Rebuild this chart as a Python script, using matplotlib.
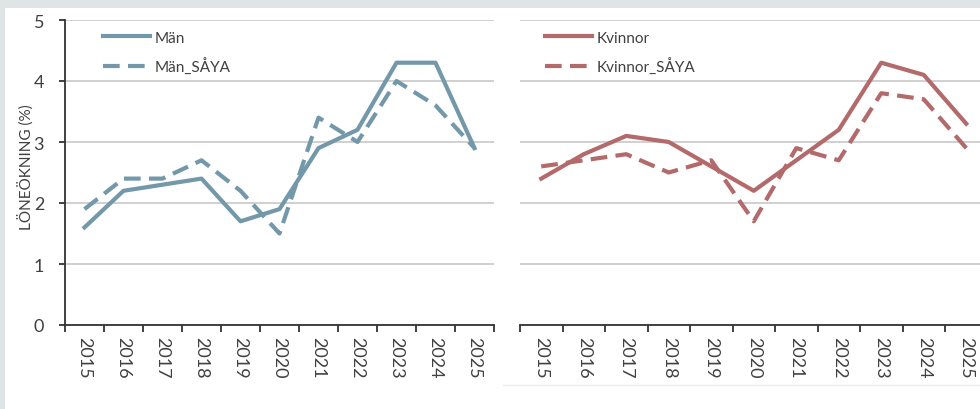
import numpy as np
import matplotlib
matplotlib.use("Agg")
import matplotlib.pyplot as plt
from matplotlib.patches import Rectangle
from matplotlib.lines import Line2D

plt.rcParams['font.family'] = ['Lato', 'DejaVu Sans']

years = ['2015', '2016', '2017', '2018', '2019', '2020', '2021', '2022', '2023', '2024', '2025']
man = [1.6, 2.2, 2.3, 2.4, 1.7, 1.9, 2.9, 3.2, 4.3, 4.3, 2.9]
man_saya = [1.9, 2.4, 2.4, 2.7, 2.2, 1.5, 3.4, 3.0, 4.0, 3.6, 2.9]
kvinnor = [2.4, 2.8, 3.1, 3.0, 2.6, 2.2, 2.7, 3.2, 4.3, 4.1, 3.3]
kvinnor_saya = [2.6, 2.7, 2.8, 2.5, 2.7, 1.7, 2.9, 2.7, 3.8, 3.7, 2.9]

blue = '#7398aa'
red = '#b36a6b'
txt = '#404040'
W, H = 980, 410

fig = plt.figure(figsize=(9.8, 4.1), dpi=100)
fig.patch.set_facecolor('#dfe5e5')
fig.patches.append(Rectangle((5 / W, 0), 1, (H - 9) / H, transform=fig.transFigure,
                             facecolor='white', edgecolor='none', zorder=-5))
fig.lines.append(Line2D([503 / W, 1], [(H - 386) / H] * 2, transform=fig.transFigure,
                        color='#ececec', lw=1, zorder=-4))

x = np.arange(len(years))


def setup(ax, left_axis):
    ax.patch.set_alpha(0)
    ax.set_xlim(-0.5, len(years) - 0.5)
    ax.set_ylim(0, 5)
    ax.set_yticks(range(6))
    ax.grid(axis='y', color='#c8c8c8', lw=1.2)
    ax.set_axisbelow(True)
    for s in ['top', 'right']:
        ax.spines[s].set_visible(False)
    ax.spines['bottom'].set_color('#333333')
    ax.spines['bottom'].set_linewidth(1.3)
    ax.set_xticks(x)
    ax.set_xticklabels(years, rotation=-90, fontsize=13, color=txt)
    ax.set_xticks(np.arange(-0.5, len(years)), minor=True)
    ax.tick_params(axis='x', which='major', length=0, pad=8)
    ax.tick_params(axis='x', which='minor', length=5, width=1.3, color='#333333', direction='out')
    if left_axis:
        ax.spines['left'].set_color('#333333')
        ax.spines['left'].set_linewidth(1.3)
        ax.tick_params(axis='y', length=4, width=1.3, color='#333333', labelsize=13,
                       labelcolor=txt, pad=11)
    else:
        ax.spines['left'].set_visible(False)
        ax.tick_params(axis='y', length=0, labelleft=False)


ax1 = fig.add_axes([65 / W, (H - 326) / H, 429 / W, 305 / H])
ax2 = fig.add_axes([520 / W, (H - 326) / H, 467.5 / W, 305 / H])
setup(ax1, True)
setup(ax2, False)
fig.text(26 / W, (H - 167) / H, 'LÖNEÖKNING (%)', rotation=90, fontsize=11, color=txt,
         ha='center', va='center')

ax1.plot(x, man, color=blue, lw=3, label='Män', clip_on=False)
ax1.plot(x, man_saya, color=blue, lw=3, ls=(0, (4, 2)), label='Män_SÅYA', clip_on=False)
ax2.plot(x, kvinnor, color=red, lw=3, label='Kvinnor', clip_on=False)
ax2.plot(x, kvinnor_saya, color=red, lw=3, ls=(0, (4, 2)), label='Kvinnor_SÅYA', clip_on=False)

for ax, x0 in ((ax1, 0.0886), (ax2, 0.0535)):
    ax.legend(loc='upper left', bbox_to_anchor=(x0, 0.965), frameon=False, fontsize=11,
              labelcolor=txt, handlelength=3.1, handletextpad=0.25, labelspacing=0.85,
              borderpad=0, borderaxespad=0)

fig.savefig('out.png', dpi=100, facecolor=fig.get_facecolor())
